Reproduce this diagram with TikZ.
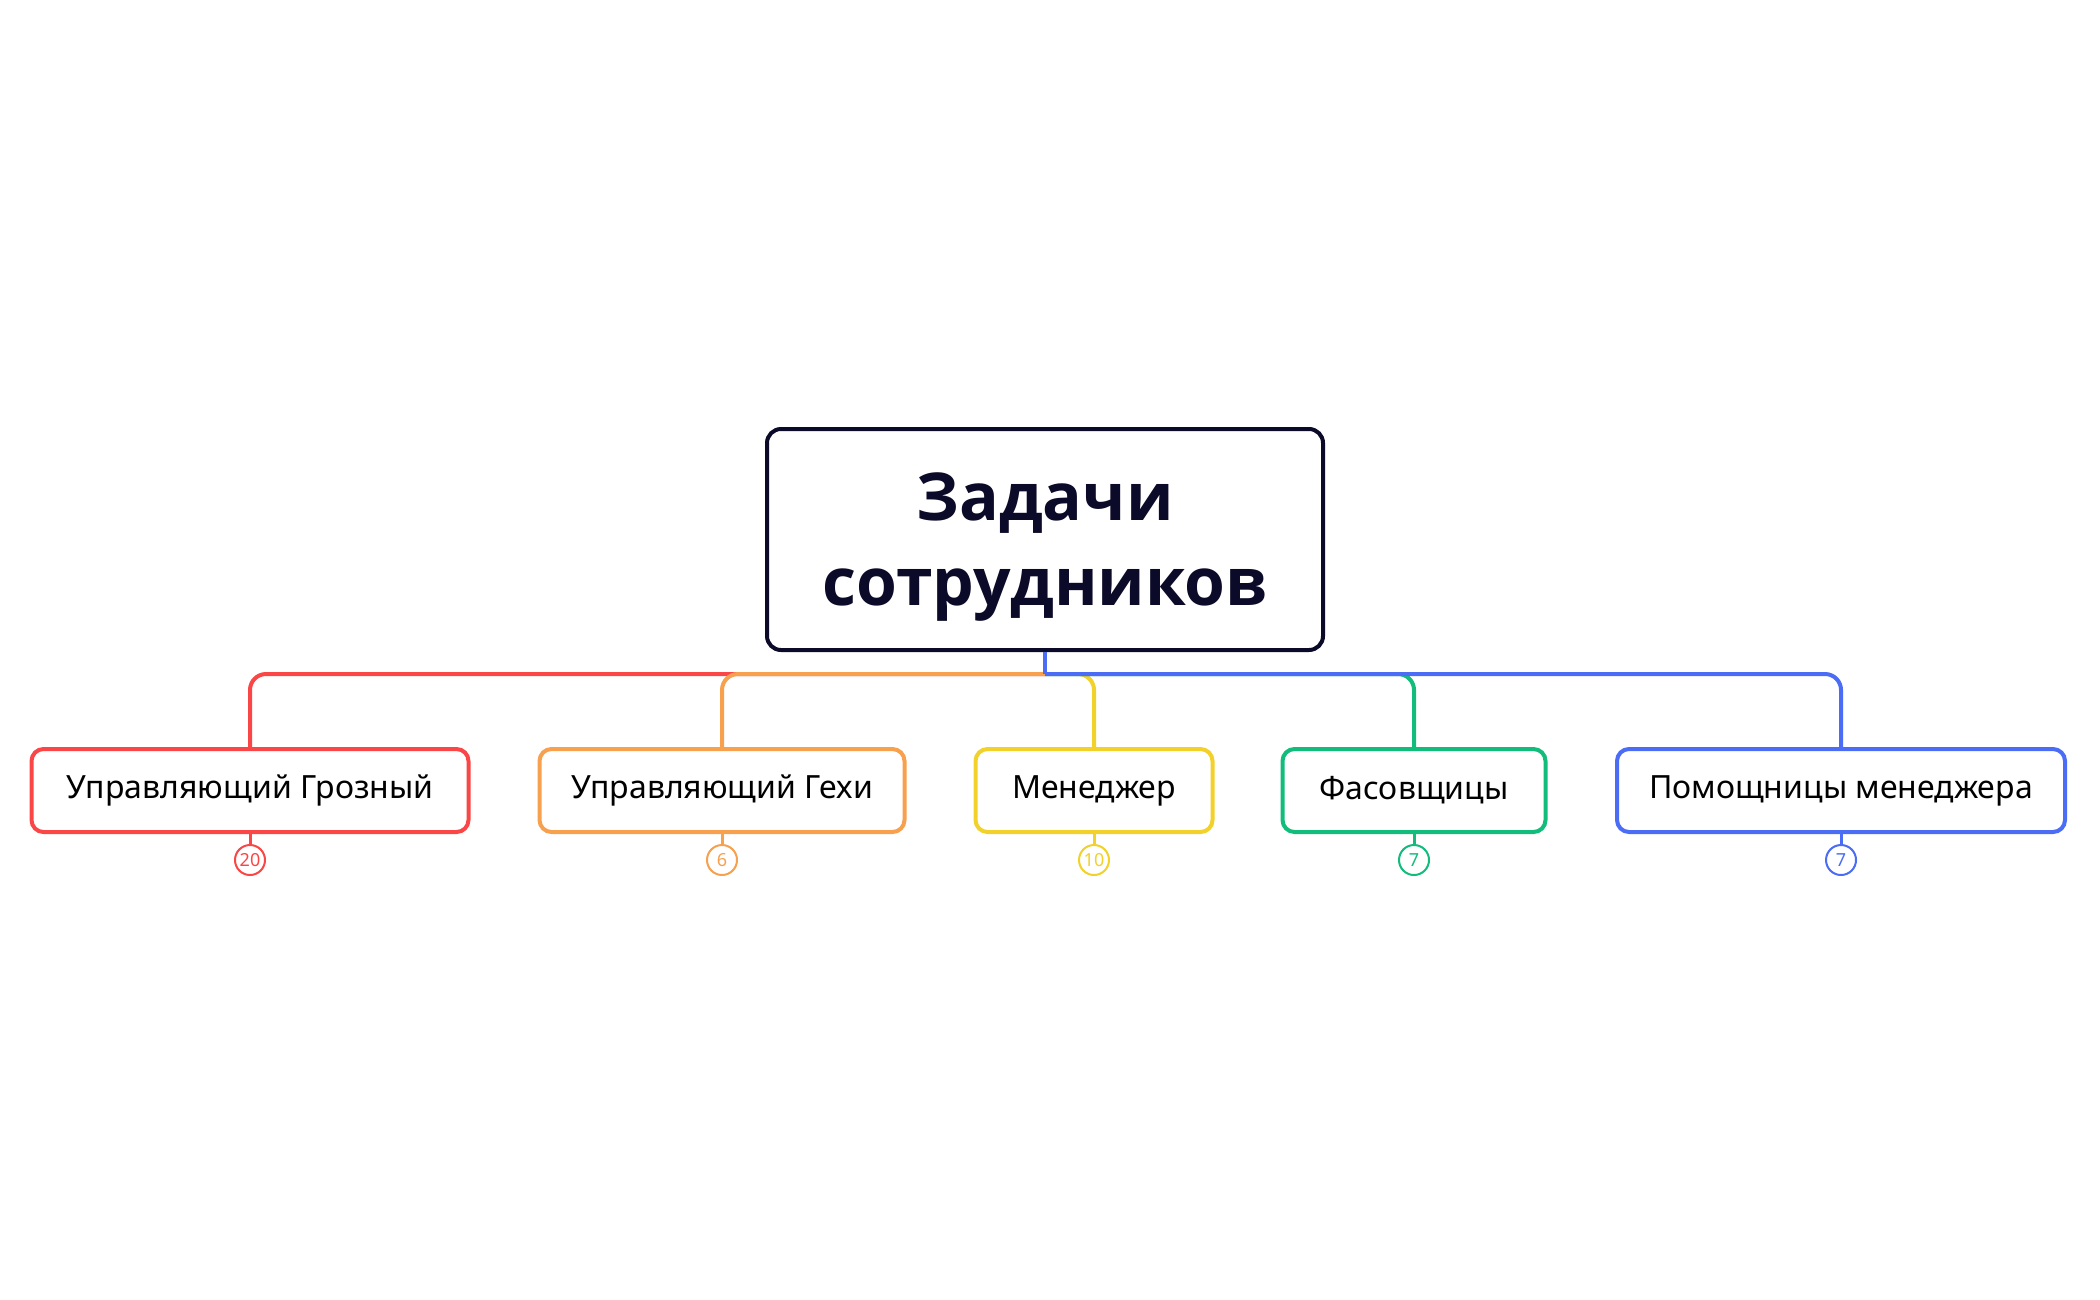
\documentclass[tikz,border=0pt]{standalone}
\usepackage{fontspec}
\setmainfont{Noto Sans}
\newfontfamily\titlefont{Open Sans}
\definecolor{navy}{HTML}{0B0A28}
\definecolor{cred}{HTML}{FA4646}
\definecolor{corange}{HTML}{F7A04E}
\definecolor{cyellow}{HTML}{F2D12A}
\definecolor{cgreen}{HTML}{12BD7C}
\definecolor{cblue}{HTML}{4B6CF5}
\begin{document}
\begin{tikzpicture}[x=1pt,y=-1pt,
  rootbox/.style={draw=navy, line width=4pt, rounded corners=14pt, fill=white,
    minimum width=556pt, minimum height=221pt},
  roottext/.style={align=center, text=navy, inner sep=0pt,
    font=\titlefont\bfseries\fontsize{66}{85}\selectfont},
  childbox/.style={draw=#1, line width=4pt, rounded corners=12pt, fill=white,
    minimum height=83pt, text=black, font=\fontsize{32}{38}\selectfont},
  link/.style={draw=#1, line width=4pt, rounded corners=16pt},
  countc/.style={circle, draw=#1, line width=2pt, fill=white, text=#1,
    minimum size=30pt, inner sep=0pt, font=\fontsize{18}{18}\selectfont},
  tick/.style={draw=#1, line width=3pt}]
\useasboundingbox (0,0) rectangle (2100,1299);
\node[rootbox] (root) at (1045,539.5) {};
\node[roottext] (title) at ([yshift=-8pt]root.center) {Задачи\\сотрудников};
\coordinate (hub) at (1045,674);
\node[childbox=cred, minimum width=437pt] (c1) at (250,790.5) {Управляющий Грозный};
\node[childbox=corange, minimum width=365pt] (c2) at (722,790.5) {Управляющий Гехи};
\node[childbox=cyellow, minimum width=237pt] (c3) at (1094,790.5) {Менеджер};
\node[childbox=cgreen, minimum width=263pt] (c4) at (1414,790.5) {Фасовщицы};
\node[childbox=cblue, minimum width=448pt] (c5) at (1841,790.5) {Помощницы менеджера};
\draw[link=cred] (hub) -| (c1.north);
\draw[link=corange] (hub) -| (c2.north);
\draw[link=cyellow] (hub) -| (c3.north);
\draw[link=cgreen] (hub) -| (c4.north);
\draw[link=cblue] (hub) -| (c5.north);
\draw[draw=cblue, line width=4pt] (root.south) -- (hub);
\foreach \i/\c/\n in {1/cred/20, 2/corange/6, 3/cyellow/10, 4/cgreen/7, 5/cblue/7}{
  \node[countc=\c, anchor=north] (n\i) at ([yshift=-10pt]c\i.south) {\n};
  \draw[tick=\c] (c\i.south) -- (n\i.north);
}
\end{tikzpicture}
\end{document}
